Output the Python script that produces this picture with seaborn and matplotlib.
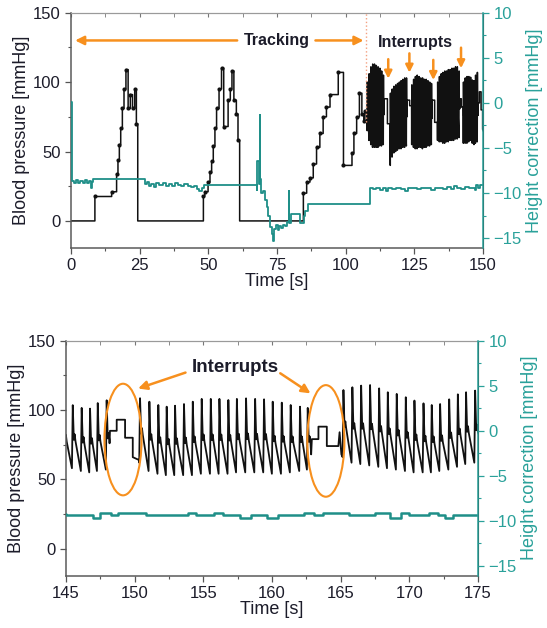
import matplotlib
matplotlib.use("Agg")
import numpy as np
import pandas as pd
import matplotlib.pyplot as plt
import seaborn as sns
from matplotlib.patches import Ellipse
from matplotlib.ticker import MultipleLocator

# Blood pressure while tracking: step points (steps-post)
STAIR_T = [0, 8.7, 14.8, 16.6, 17.1, 17.6, 18.1, 18.7, 19.3, 20.0, 20.8, 21.6, 22.4, 23.2, 23.8, 24.3,
           48.2, 48.7, 49.9, 50.6, 51.2, 51.8, 52.4, 53.0, 53.9, 54.8, 55.6, 57.2, 58.0, 58.6, 59.3, 60.2, 60.8, 61.4,
           84.6, 85.8, 87.0, 88.2, 89.4, 90.6, 91.8, 93.0, 94.3, 97.3, 99.2, 102.3, 103.0, 104.0, 105.0, 105.9, 106.6, 107.0]
STAIR_V = [0, 17.6, 21, 34, 44, 55, 67, 81, 95, 109, 81, 91, 81, 95, 70, 0,
           18, 21, 28, 35, 43, 54, 67, 81, 95, 110, 68, 87, 95, 108, 87, 77, 58, 0,
           20, 28, 31, 41, 53, 63, 75, 82, 91, 107, 40, 49, 63, 75, 92, 77, 72, 79]

# Pulsatile part: time of each systolic peak, peak value, diastolic value before it
BEAT_T = [107.90, 108.55, 109.20, 109.85, 110.50, 111.15, 111.80, 112.45, 113.10, 113.75,
          116.30, 116.95, 117.60, 118.25, 118.90, 119.55, 120.20, 120.85, 121.50, 122.15,
          124.10, 124.75, 125.40, 126.05, 126.70, 127.35, 128.00, 128.65, 129.30, 129.95, 130.60, 131.25,
          133.50, 134.15, 134.80, 135.45, 136.10, 136.75, 137.40, 138.05, 138.70, 139.35, 140.00, 140.65, 141.30,
          142.90, 143.55, 144.20, 144.85, 145.49, 146.14, 146.75, 147.31, 147.96,
          150.39, 151.07, 151.72, 152.33, 152.94, 153.59, 154.23, 154.88, 155.54, 156.17,
          156.82, 157.44, 158.11, 158.77, 159.42, 160.05, 160.71, 161.36, 162.04, 162.60,
          165.20, 165.85, 166.49, 167.14, 167.80, 168.43, 169.08, 169.74, 170.37, 171.03,
          171.63, 172.24, 172.90, 173.53, 174.13, 174.79]
BEAT_PEAK = [100, 106, 111, 113, 113, 112, 111, 110, 108, 105,
             92, 95, 97, 98, 99, 100, 101, 102, 103, 103,
             98, 102, 104, 105, 104, 103, 103, 102, 102, 101, 100, 99,
             100, 104, 106, 107, 108, 108, 109, 109, 110, 110, 111, 111, 108,
             100, 103, 104, 104, 103.5, 101.5, 101, 105, 107,
             108.5, 106, 103.6, 102.4, 103.1, 104.3, 106, 108, 108, 108,
             107.2, 108, 108.4, 108, 107.7, 106, 105.3, 103.6, 102.4, 101.5,
             114.4, 116.4, 117.6, 118, 115.6, 112.8, 111.6, 109.2, 106.8, 104.8,
             103.6, 104.3, 107.7, 111.3, 112.8, 114]
BEAT_TROUGH = [65, 58, 55, 53, 53, 53, 53, 54, 54, 55,
               40, 46, 49, 50, 51, 52, 52, 53, 53, 54,
               55, 53, 52, 52, 53, 53, 52, 53, 53, 54, 54, 55,
               58, 57, 57, 56, 56, 57, 57, 58, 58, 58, 59, 59, 60,
               56, 56, 56, 57, 58, 56, 55, 56, 57,
               62, 56, 54, 53, 53, 53, 53, 54, 54, 54,
               54, 55, 55, 55, 55, 54, 54, 55, 56, 57,
               66, 62, 61, 60, 59, 58, 57, 56, 55, 55,
               55, 56, 57, 59, 61, 62]

# Pressure plateaus during the interrupts
INT_T = [114.0, 115.2, 115.2, 116.2,
         122.4, 123.3, 123.3, 124.0,
         131.5, 132.4, 132.4, 133.4,
         141.55, 142.1, 142.1, 142.8,
         148.17, 148.2, 148.69, 148.69, 149.3, 149.3, 149.86, 149.86, 150.3,
         162.85, 162.9, 163.38, 163.38, 163.99, 163.99, 164.83, 164.92, 165.05,
         175.4]
INT_V = [88, 88, 70, 70,
         87, 87, 83, 83,
         87, 87, 71, 71,
         88, 88, 82, 82,
         76, 85, 85, 93, 93, 80, 80, 66, 64,
         68, 79, 79, 88, 88, 74, 74, 84, 68,
         72]

# Height correction (steps-post)
HC_T = [0, 0.3, 1.0, 1.8, 2.6, 3.4, 4.3, 5.0, 5.7, 6.5, 7.4, 7.7, 8.0,
        26.9, 27.5, 28.3, 29.0, 30.1, 31.0, 32.2, 33.5, 34.6, 35.5, 36.6, 37.8, 38.9, 40.0, 41.3,
        42.5, 43.6, 44.8, 45.8, 46.6, 47.6, 48.3,
        67.6, 67.9, 68.3, 68.7, 68.9, 69.3, 70.0, 70.6, 71.3, 71.8, 72.4, 73.0, 73.5, 74.0, 74.6,
        75.2, 75.9, 76.6, 77.3, 78.0, 78.6, 79.2, 79.5, 80.0, 83.4, 84.7, 85.3, 86.2,
        108.7, 110.0, 111.2, 112.4, 113.5, 114.6, 115.3, 117.0, 118.5, 120.0, 121.5, 122.6, 124.5,
        126.0, 127.5, 129.0, 131.0, 132.5, 134.0, 135.5, 137.0, 138.5, 139.3, 140.5, 142.0, 143.5,
        145.0, 147.0, 147.5, 148.3, 148.8, 150.85, 153.9, 154.5, 155.8, 156.4, 157.7, 158.5, 159.6,
        160.4, 162.3, 163.05, 163.7, 165.6, 167.5, 168.6, 169.4, 170.0, 171.4, 172.1, 172.6, 173.2, 175.0]
HC_V = [0.1, -8.7, -8.9, -8.6, -8.9, -8.7, -8.9, -8.6, -8.85, -8.7, -9.4, -8.8, -8.5,
        -9.0, -8.8, -9.2, -9.0, -9.3, -8.9, -9.1, -8.9, -9.2, -9.0, -9.2, -8.9, -9.1, -9.2, -9.0,
        -9.2, -9.3, -9.2, -9.6, -9.8, -9.4, -9.1,
        -9.7, -6.5, -9.0, -1.4, -8.5, -10.0, -9.8, -10.8, -11.5, -12.5, -13.8, -14.6, -15.3, -14.0, -13.6,
        -14.1, -13.7, -13.9, -13.5, -13.7, -13.2, -9.8, -13.3, -12.3, -13.3, -12.6, -12.0, -11.2,
        -9.4, -9.6, -9.5, -9.7, -9.5, -9.8, -9.5, -9.6, -9.4, -9.6, -9.8, -9.4, -9.5,
        -9.6, -9.4, -9.5, -9.7, -9.5, -9.4, -9.6, -9.3, -9.6, -9.2, -9.5, -9.6, -9.3,
        -9.41, -9.67, -9.12, -9.41, -9.12, -9.41, -9.12, -9.41, -9.12, -9.41, -9.67, -9.41, -9.67,
        -9.41, -9.12, -9.41, -9.12, -9.41, -9.12, -9.67, -9.12, -9.41, -9.12, -9.41, -9.67, -9.41, -9.41]

BLACK = "#111111"
TEAL = "#1f8f88"
TEAL_TXT = "#2aa19a"
ORANGE = "#f7901e"
TXT = "#1c1c2a"

# build the pressure polyline: stair corners + beat shape + plateaus
pts = []
prev = STAIR_V[0]
for t, v in zip(STAIR_T, STAIR_V):
    pts.append((t, prev))
    pts.append((t, v))
    prev = v
pts.append((107.6, prev))
for tp, s, d in zip(BEAT_T, BEAT_PEAK, BEAT_TROUGH):
    n = d + 0.45 * (s - d)
    pts += [(tp - 0.06, d), (tp, s), (tp + 0.08, n), (tp + 0.14, n + 4), (tp + 0.2, n - 1)]
pts += list(zip(INT_T, INT_V))
pts.sort(key=lambda p: p[0])
bp = pd.DataFrame(pts, columns=["t", "v"])
hc = pd.DataFrame({"t": HC_T, "v": HC_V})
dots = pd.DataFrame({"t": STAIR_T, "v": STAIR_V})
dots = dots[dots["v"] > 0]

sns.set_style("ticks")
plt.rcParams["font.family"] = ["Liberation Sans", "DejaVu Sans"]

fig = plt.figure(figsize=(5.47, 6.28), dpi=100)
ax_top = fig.add_axes([0.1298, 0.6051, 0.7532, 0.3747])
ax_bot = fig.add_axes([0.1207, 0.0833, 0.7532, 0.3742])


def style_panel(ax, xlim, xmajor, xminor, bp_lw, hc_lw, show_dots):
    sns.lineplot(data=bp, x="t", y="v", sort=False, estimator=None, color=BLACK, lw=bp_lw, ax=ax)
    if show_dots:
        sns.scatterplot(data=dots, x="t", y="v", color=BLACK, s=9, linewidth=0, ax=ax)
    ax.set_xlim(*xlim)
    ax.set_ylim(-19.5, 150)
    ax.xaxis.set_major_locator(MultipleLocator(xmajor))
    ax.xaxis.set_minor_locator(MultipleLocator(xminor))
    ax.yaxis.set_major_locator(MultipleLocator(50))
    ax.yaxis.set_minor_locator(MultipleLocator(25))
    ax.tick_params(which="both", direction="out", colors="#555555", labelcolor=TXT, labelsize=12)
    ax.tick_params(which="major", length=4, width=0.9)
    ax.tick_params(which="minor", length=2.5, width=0.8)
    ax.set_xlabel("Time [s]", fontsize=13, color=TXT, labelpad=0)
    ax.set_ylabel("Blood pressure [mmHg]", fontsize=13, color=TXT, labelpad=2)
    for side in ["left", "bottom"]:
        ax.spines[side].set_color("#5a5a5a")
        ax.spines[side].set_linewidth(1.1)
    ax.spines["top"].set_visible(True)
    ax.spines["top"].set_color("#9a9a9a")
    top = ax.secondary_xaxis("top")
    top.xaxis.set_major_locator(MultipleLocator(xmajor))
    top.xaxis.set_minor_locator(MultipleLocator(xminor))
    top.tick_params(which="both", direction="in", labeltop=False, colors="#777777", length=3)
    top.spines["top"].set_color("#9a9a9a")

    ax2 = ax.twinx()
    sns.lineplot(data=hc, x="t", y="v", sort=False, estimator=None, color=TEAL, lw=hc_lw,
                 drawstyle="steps-post", ax=ax2)
    ax2.set_xlim(*xlim)
    ax2.set_ylim(-16.1, 10)
    ax2.yaxis.set_major_locator(MultipleLocator(5))
    ax2.yaxis.set_minor_locator(MultipleLocator(2.5))
    ax2.tick_params(which="both", direction="out", colors=TEAL_TXT, labelsize=12)
    ax2.tick_params(which="major", length=4, width=0.9)
    ax2.tick_params(which="minor", length=2.5, width=0.8)
    ax2.set_ylabel("Height correction [mmHg]", fontsize=13, color=TEAL_TXT, labelpad=3)
    ax2.spines["right"].set_color(TEAL_TXT)
    ax2.spines["right"].set_linewidth(1.1)
    ax2.spines["left"].set_visible(False)
    ax2.spines["top"].set_visible(False)
    ax2.spines["bottom"].set_visible(False)
    return ax2


style_panel(ax_top, (0, 150), 25, 12.5, 1.1, 1.3, True)
style_panel(ax_bot, (145, 175), 5, 2.5, 1.3, 1.8, False)

arrow = dict(arrowstyle="-|>", color=ORANGE, lw=1.8, mutation_scale=13, shrinkA=0, shrinkB=0)

# top panel annotations
ax_top.text(75.1, 130, "Tracking", fontsize=11.5, fontweight="bold", color=TXT, ha="center", va="center")
ax_top.annotate("", xy=(1.5, 130), xytext=(60.5, 130), arrowprops=arrow)
ax_top.annotate("", xy=(106.5, 130), xytext=(89, 130), arrowprops=arrow)
ax_top.plot([107.5, 107.5], [71, 150], color="#f4a080", lw=1, ls=":")
ax_top.text(125.3, 128.5, "Interrupts", fontsize=11.5, fontweight="bold", color=TXT, ha="center", va="center")
for x, y0, y1 in [(115.5, 116.5, 102.5), (123.2, 120.7, 106.8), (131.9, 116, 101.5), (142.0, 124.8, 110)]:
    ax_top.annotate("", xy=(x, y1), xytext=(x, y0),
                    arrowprops=dict(arrowstyle="-|>", color=ORANGE, lw=1.8, mutation_scale=11,
                                    shrinkA=0, shrinkB=0))

# bottom panel annotations
ax_bot.text(157.3, 130.5, "Interrupts", fontsize=13.5, fontweight="bold", color=TXT, ha="center", va="center")
ax_bot.annotate("", xy=(150.25, 115.5), xytext=(153.7, 127), arrowprops=arrow)
ax_bot.annotate("", xy=(162.8, 112), xytext=(160.6, 126.5), arrowprops=arrow)
for cx, cy in [(149.15, 78.7), (163.92, 77.7)]:
    ax_bot.add_patch(Ellipse((cx, cy), 2.7, 80.5, fill=False, ec=ORANGE, lw=1.5, zorder=5))

fig.savefig("out.png", dpi=100)
